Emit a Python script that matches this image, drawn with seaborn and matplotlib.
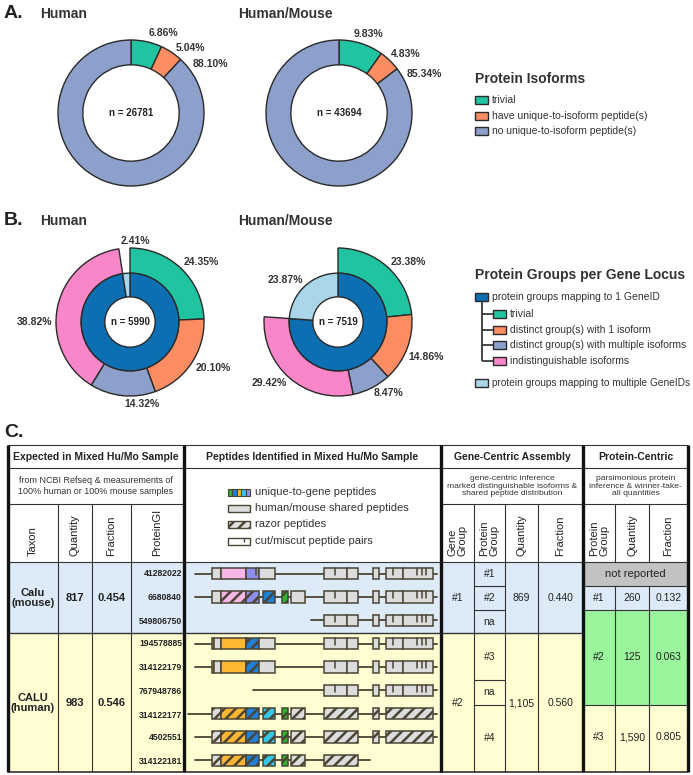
import numpy as np
import matplotlib
matplotlib.use("Agg")
import matplotlib.pyplot as plt
import seaborn as sns
from matplotlib.patches import Rectangle

sns.set_theme(style="white")
plt.rcParams['font.family'] = ['Liberation Sans', 'DejaVu Sans']
plt.rcParams['hatch.linewidth'] = 1.8

# ---------------- data ----------------
iso_labels = ["trivial", "have unique-to-isoform peptide(s)", "no unique-to-isoform peptide(s)"]
iso_human = [6.86, 5.04, 88.10]
iso_hm = [9.83, 4.83, 85.34]
iso_n = [26781, 43694]

grp_parent = "protein groups mapping to 1 GeneID"
grp_labels = ["trivial", "distinct group(s) with 1 isoform",
              "distinct group(s) with multiple isoforms", "indistinguishable isoforms",
              "protein groups mapping to multiple GeneIDs"]
grp_human = [24.35, 20.10, 14.32, 38.82, 2.41]
grp_hm = [23.38, 14.86, 8.47, 29.42, 23.87]
grp_n = [5990, 7519]

panel_titles = ["Human", "Human/Mouse"]

table_headers = ["Expected in Mixed Hu/Mo Sample", "Peptides Identified in Mixed Hu/Mo Sample",
                 "Gene-Centric Assembly", "Protein-Centric"]
table_desc = ["from NCBI Refseq & measurements of\n100% human or 100% mouse samples",
              "gene-centric inference\nmarked distinguishable isoforms &\nshared peptide distribution",
              "parsimonious protein\ninference & winner-take-\nall quantities"]
exp_cols = ["Taxon", "Quantity", "Fraction", "ProteinGI"]
gene_cols = ["Gene\nGroup", "Protein\nGroup", "Quantity", "Fraction"]
prot_cols = ["Protein\nGroup", "Quantity", "Fraction"]

taxa = ["Calu\n(mouse)", "CALU\n(human)"]
exp_quantity = ["817", "983"]
exp_fraction = ["0.454", "0.546"]
protein_gi = ["41282022", "6680840", "549806750", "194578885", "314122179",
              "767948786", "314122177", "4502551", "314122181"]
gene_group = ["#1", "#2"]
gene_protein_group = ["#1", "#2", "na", "#3", "na", "#4"]
gene_quantity = ["869", "1,105"]
gene_fraction = ["0.440", "0.560"]
prot_group = ["#1", "#2", "#3"]
prot_quantity = ["260", "125", "1,590"]
prot_fraction = ["0.132", "0.063", "0.805"]

pep_legend = ["unique-to-gene peptides", "human/mouse shared peptides", "razor peptides",
              "cut/miscut peptide pairs"]

# peptide maps in sequence units: backbone start/end, segments (start, end, kind, razor), cut ticks
pep_start = [11, 11, 127, 11, 11, 69, 4, 11, 11]
pep_end = [253, 253, 253, 253, 253, 253, 253, 253, 186]
exB = [(140, 163, 'gray', 0), (163, 174, 'gray', 0)]
exC = [(189, 195, 'gray', 0)]
exD = [(202, 219, 'gray', 0), (219, 249, 'gray', 0)]
exBh = [(140, 174, 'gray', 1)]
exCh = [(189, 195, 'gray', 1)]
exDh = [(202, 249, 'gray', 1)]
cuts_std = [151, 209, 233, 238, 242]
pep_segments = [
    [(28, 37, 'gray', 0), (37, 62, 'pink', 0), (62, 75, 'purple', 0), (75, 91, 'gray', 0)] + exB + exC + exD,
    [(28, 37, 'gray', 0), (37, 62, 'pink', 1), (62, 75, 'purple', 1), (79, 91, 'blue', 1),
     (98, 104, 'green', 1), (107, 121, 'gray', 0)] + exB + exC + exD,
    exB + exC + exD,
    [(28, 30, 'orange', 0), (30, 37, 'gray', 0), (37, 62, 'orange', 0), (62, 75, 'blue', 1),
     (75, 91, 'gray', 0)] + exB + exC + exD,
    [(28, 30, 'orange', 0), (30, 37, 'gray', 0), (37, 62, 'orange', 0), (62, 75, 'blue', 1),
     (75, 91, 'gray', 0)] + exB + exC + exD,
    exB + exC + exD,
    [(28, 37, 'gray', 1), (37, 62, 'orange', 1), (62, 75, 'blue', 1), (79, 91, 'cyan', 1),
     (98, 104, 'green', 1), (107, 121, 'gray', 1)] + exBh + exCh + exDh,
    [(28, 37, 'gray', 1), (37, 62, 'orange', 1), (62, 75, 'blue', 1), (79, 91, 'cyan', 1),
     (98, 104, 'green', 1), (107, 121, 'gray', 1)] + exBh + exCh + exDh,
    [(28, 37, 'gray', 1), (37, 62, 'orange', 1), (62, 75, 'blue', 1), (79, 91, 'cyan', 1),
     (98, 104, 'green', 1), (107, 121, 'gray', 1)] + exBh,
]
pep_cuts = [[72] + cuts_std, cuts_std, cuts_std, cuts_std, cuts_std, cuts_std, [], [], []]

# ---------------- styles ----------------
set2 = sns.color_palette("Set2")
c_teal = "#21c4a0"
c_orange = set2[1]
c_lav = set2[2]
c_pink = "#f986c8"
c_dblue = "#0b6fb2"
c_lblue = "#a9d6e8"
iso_colors = [c_teal, c_orange, c_lav]
grp_colors = [c_teal, c_orange, c_lav, c_pink, c_lblue]
edge = "#2a2a2a"
txt = "#333333"
pep_colors = {'gray': '#dcdcdc', 'pink': '#f8b6e6', 'purple': '#8e8ef0', 'orange': '#ffb733',
              'blue': '#1f80d8', 'cyan': '#35c6e6', 'green': '#2db52d'}
pep_edge = "#4a4434"

W, H = 693, 775
fig = plt.figure(figsize=(W / 100, H / 100), dpi=100)
cv = fig.add_axes([0, 0, 1, 1])
cv.set_xlim(0, W)
cv.set_ylim(H, 0)
cv.axis('off')


def T(x, y, s, size=7.5, weight='normal', ha='center', va='center', color='#222222', **kw):
    cv.text(x, y, s, fontsize=size, fontweight=weight, ha=ha, va=va, color=color, **kw)


def L(x0, y0, x1, y1, lw=0.8, c='#333333'):
    cv.plot([x0, x1], [y0, y1], color=c, lw=lw, solid_capstyle='butt')


def pie_axes(cx, cy, r, pad=1.12):
    s = r * pad
    ax = fig.add_axes([(cx - s) / W, 1 - (cy + s) / H, 2 * s / W, 2 * s / H])
    ax.set_xlim(-pad, pad)
    ax.set_ylim(-pad, pad)
    ax.axis('off')
    return ax


# ---------------- panel labels ----------------
for lab, yb in [("A.", 18), ("B.", 225), ("C.", 437)]:
    T(4, yb, lab, size=14, weight='bold', ha='left', va='baseline')
for yb in [18, 225]:
    T(40, yb, panel_titles[0], size=10, weight='bold', ha='left', va='baseline', color=txt)
    T(238, yb, panel_titles[1], size=10, weight='bold', ha='left', va='baseline', color=txt)

# ---------------- panel A ----------------
a_centers = [(131, 113), (339, 113)]
a_label_pos = [[(163, 33), (190, 48), (210, 64)], [(368, 34), (406, 54), (424, 74)]]
for (cx, cy), vals, n, lpos in zip(a_centers, [iso_human, iso_hm], iso_n, a_label_pos):
    ax = pie_axes(cx, cy, 73)
    ax.pie(vals, colors=iso_colors, startangle=90, counterclock=False, radius=1,
           wedgeprops=dict(width=0.34, edgecolor=edge, linewidth=1.0))
    ax.set_xlim(-1.12, 1.12)
    ax.set_ylim(-1.12, 1.12)
    ax.text(0, 0, f"n = {n}", ha='center', va='center', fontsize=7, fontweight='bold', color='#222')
    for v, (x, y) in zip(vals, lpos):
        T(x, y, f"{v:.2f}%", size=7.5, weight='bold', color=txt)

T(475, 79, "Protein Isoforms", size=10, weight='bold', ha='left', color=txt)
for i, (lab, col) in enumerate(zip(iso_labels, iso_colors)):
    yy = [100, 116, 131][i]
    cv.add_patch(Rectangle((475, yy - 4), 13, 8, fc=col, ec=edge, lw=1))
    T(492, yy, lab, size=7.5, ha='left', color='#333')

# ---------------- panel B ----------------
b_centers = [(130, 322), (338, 322)]
b_label_pos = [[(201, 262), (213, 368), (142, 404), (35, 322), (135, 241)],
               [(408, 262), (426, 357), (388, 393), (269, 383), (285, 280)]]
for (cx, cy), vals, n, lpos in zip(b_centers, [grp_human, grp_hm], grp_n, b_label_pos):
    ax = pie_axes(cx, cy, 74)
    w_out, _ = ax.pie(vals, colors=grp_colors, startangle=90, counterclock=False, radius=1,
                      wedgeprops=dict(width=0.34, edgecolor=edge, linewidth=1.0))
    w_out[-1].set_visible(False)
    ax.pie([sum(vals[:4]), vals[4]], colors=[c_dblue, c_lblue], startangle=90, counterclock=False,
           radius=0.66, wedgeprops=dict(width=0.32, edgecolor=edge, linewidth=1.0))
    ax.set_xlim(-1.12, 1.12)
    ax.set_ylim(-1.12, 1.12)
    ax.text(0, 0, f"n = {n}", ha='center', va='center', fontsize=7, fontweight='bold', color='#222')
    for v, (x, y) in zip(vals, lpos):
        T(x, y, f"{v:.2f}%", size=7.5, weight='bold', color=txt)

T(475, 275, "Protein Groups per Gene Locus", size=10, weight='bold', ha='left', color=txt)
cv.add_patch(Rectangle((475, 293), 13, 8, fc=c_dblue, ec=edge, lw=1))
T(492, 297, grp_parent, size=7.5, ha='left', color='#333')
L(482, 301, 482, 361, lw=1.3, c='#3a3a3a')
for i, (lab, col) in enumerate(zip(grp_labels[:4], grp_colors[:4])):
    yy = [314, 330, 345, 361][i]
    L(482, yy, 493, yy, lw=1.3, c='#3a3a3a')
    cv.add_patch(Rectangle((493, yy - 4), 13, 8, fc=col, ec=edge, lw=1))
    T(510, yy, lab, size=7.5, ha='left', color='#333')
cv.add_patch(Rectangle((475, 379), 13, 8, fc=c_lblue, ec=edge, lw=1))
T(492, 383, grp_labels[4], size=7.3, ha='left', color='#333')

# ---------------- panel C table ----------------
x0, x1 = 8, 688
xe = [8, 58, 92, 131, 184]
xg = [441, 474, 505, 538, 583]
xp = [583, 615, 649, 688]
y_top, y_h1, y_h2, y_body, y_mid, y_bot = 445, 468, 504, 562, 633, 772
bg_blue, bg_yel, bg_gray, bg_green = "#ddebf9", "#fefed2", "#c2c2c2", "#9af59c"

cv.add_patch(Rectangle((x0, y_body), x1 - x0, y_mid - y_body, fc=bg_blue, ec='none'))
cv.add_patch(Rectangle((x0, y_mid), x1 - x0, y_bot - y_mid, fc=bg_yel, ec='none'))
cv.add_patch(Rectangle((xp[0], 562), x1 - xp[0], 24, fc=bg_gray, ec='none'))
cv.add_patch(Rectangle((xp[0], 610), x1 - xp[0], 95, fc=bg_green, ec='none'))

# thin lines
L(x0, y_top, x1, y_top)
L(x0, y_h1, x1, y_h1)
L(x0, y_h2, xe[-1], y_h2)
L(xg[0], y_h2, x1, y_h2)
L(x0, y_body, x1, y_body)
L(x0, y_mid, xg[-1], y_mid, lw=1.0)
L(x0, y_bot, x1, y_bot, lw=1.2)
for x in xe[1:-1]:
    L(x, y_h2, x, y_bot)
for x in xg[1:-1]:
    L(x, y_h2, x, y_bot)
for x in xp[1:-1]:
    L(x, y_h2, x, y_body)
    L(x, 586, x, y_bot)
for y in [586, 610, 680, 705]:
    L(xg[1], y, xg[2], y)
for y in [586, 610, 705]:
    L(xp[0], y, x1, y)
# thick verticals
for x in [x0, xe[-1], xg[0], xg[-1], x1]:
    L(x, y_top, x, y_bot, lw=2.4, c='#111111')

# header texts
for s, xc in zip(table_headers, [(xe[0] + xe[-1]) / 2, (xe[-1] + xg[0]) / 2,
                                 (xg[0] + xg[-1]) / 2, (xp[0] + xp[-1]) / 2]):
    T(xc, 457, s, size=7.5, weight='bold')
for s, xc, fs in zip(table_desc, [(xe[0] + xe[-1]) / 2, (xg[0] + xg[-1]) / 2, (xp[0] + xp[-1]) / 2],
                     [6.5, 6.1, 6.1]):
    T(xc, 486, s, size=fs, color='#333', linespacing=1.15)

for cols, edges in [(exp_cols, xe), (gene_cols, xg), (prot_cols, xp)]:
    for i, s in enumerate(cols):
        T((edges[i] + edges[i + 1]) / 2, 556, s, size=8, rotation=90, va='bottom',
          multialignment='left', linespacing=1.0)

# body text
row_y = [574, 598, 621, 644, 668, 691, 715, 737, 761]
for s, q, f, yc in zip(taxa, exp_quantity, exp_fraction, [598, 703]):
    T((xe[0] + xe[1]) / 2, yc, s, size=8, weight='bold', linespacing=1.1)
    T((xe[1] + xe[2]) / 2, yc, q, size=8, weight='bold')
    T((xe[2] + xe[3]) / 2, yc, f, size=8, weight='bold')
for s, yc in zip(protein_gi, row_y):
    T(xe[4] - 2, yc, s, size=6.2, weight='bold', ha='right')

for g, q, f, yc in zip(gene_group, gene_quantity, gene_fraction, [598, 703]):
    T((xg[0] + xg[1]) / 2, yc, g, size=7.5)
    T((xg[2] + xg[3]) / 2, yc, q, size=7.5)
    T((xg[3] + xg[4]) / 2, yc, f, size=7.5)
for s, yc in zip(gene_protein_group, [574, 598, 622, 657, 692, 738]):
    T((xg[1] + xg[2]) / 2, yc, s, size=7.5)

T((xp[0] + xp[-1]) / 2, 574, "not reported", size=8)
for g, q, f, yc in zip(prot_group, prot_quantity, prot_fraction, [598, 657, 737]):
    T((xp[0] + xp[1]) / 2, yc, g, size=7.5)
    T((xp[1] + xp[2]) / 2, yc, q, size=7.5)
    T((xp[2] + xp[3]) / 2, yc, f, size=7.5)

# peptide legend
leg_y = [492, 508, 524, 541]
stripe_cols = ['green', 'blue', 'orange', 'cyan', 'purple']
for k, c in enumerate(stripe_cols):
    cv.add_patch(Rectangle((228 + k * 4.4, leg_y[0] - 3.5), 4.4, 7, fc=pep_colors[c], ec=pep_edge, lw=0.8))
cv.add_patch(Rectangle((228, leg_y[1] - 3.5), 22, 7, fc=pep_colors['gray'], ec=pep_edge, lw=1))
cv.add_patch(Rectangle((228, leg_y[2] - 3.5), 22, 7, fc='#e0e0e0', ec=pep_edge, lw=1, hatch='///'))
cv.add_patch(Rectangle((228, leg_y[3] - 3.5), 22, 7, fc='white', ec=pep_edge, lw=1))
L(244, leg_y[3] - 3.5, 244, leg_y[3] + 0.5, lw=1, c=pep_edge)
for s, yy in zip(pep_legend, leg_y):
    T(255, yy, s, size=8, ha='left', color='#333')

# peptide maps
pax = fig.add_axes([184 / W, 1 - 772 / H, 257 / W, 210 / H])
pax.set_xlim(0, 257)
pax.set_ylim(len(protein_gi) - 0.5, -0.5)
pax.axis('off')
pax.patch.set_alpha(0)
bh = 0.5
for i, (s0, s1, segs, cuts) in enumerate(zip(pep_start, pep_end, pep_segments, pep_cuts)):
    pax.plot([s0, s1], [i, i], color=pep_edge, lw=1.3, zorder=1)
    for (a, b, kind, razor) in segs:
        pax.add_patch(Rectangle((a, i - bh / 2), b - a, bh, fc=pep_colors[kind], ec=pep_edge,
                                lw=1.1, hatch='///' if razor else None, zorder=2))
    for c in cuts:
        pax.plot([c, c], [i - bh / 2, i + bh * 0.1], color=pep_edge, lw=1.1, zorder=3)

fig.savefig("out.png", dpi=100)
